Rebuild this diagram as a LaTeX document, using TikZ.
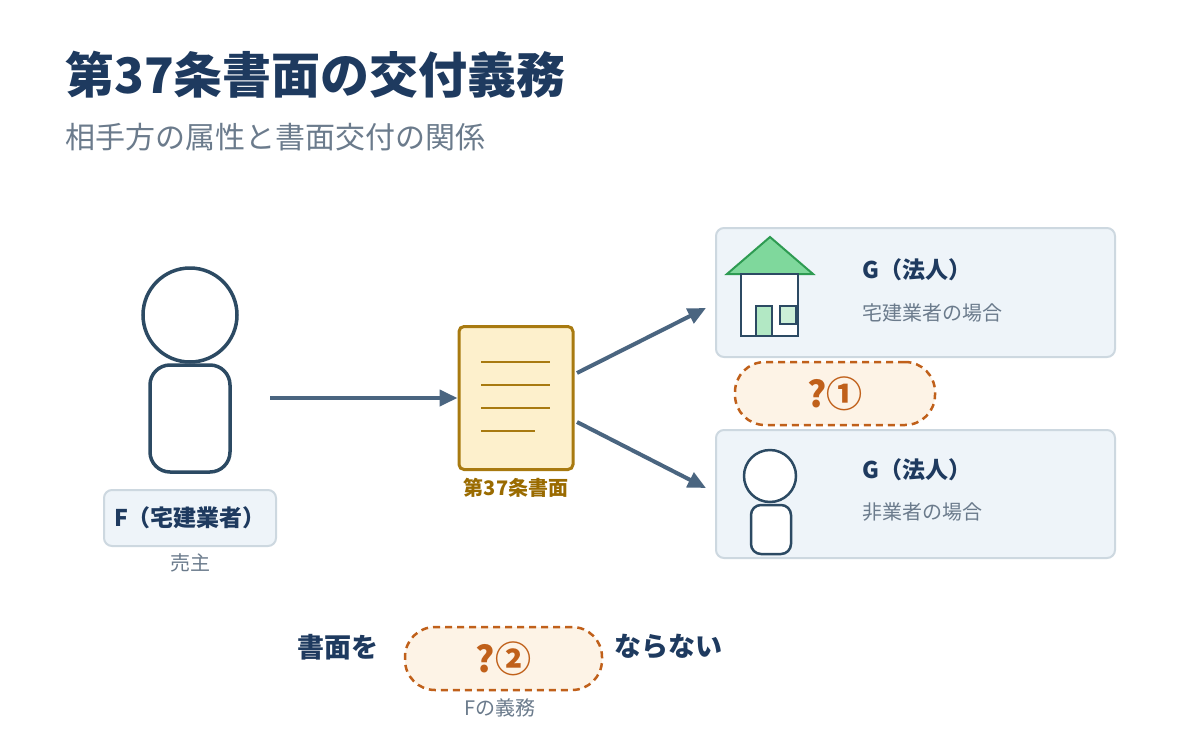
\documentclass[tikz,border=0pt]{standalone}
\usepackage{fontspec}
\setmainfont{Noto Sans CJK JP}
\usetikzlibrary{arrows.meta}
\definecolor{navy}{HTML}{1E3A5F}
\definecolor{ink}{HTML}{2C4A63}
\definecolor{arrowc}{HTML}{4A6580}
\definecolor{greytxt}{HTML}{6B7B8C}
\definecolor{panel}{HTML}{EEF4F9}
\definecolor{panelline}{HTML}{CDD8E0}
\definecolor{docfill}{HTML}{FDF0CC}
\definecolor{docline}{HTML}{A87A10}
\definecolor{doctxt}{HTML}{9A6B00}
\definecolor{pillfill}{HTML}{FDF3E6}
\definecolor{pillline}{HTML}{C0601A}
\definecolor{roof}{HTML}{7FD89C}
\definecolor{roofline}{HTML}{2E9B52}
\begin{document}
\begin{tikzpicture}[x=1pt,y=-1pt,
    panelbox/.style={fill=panel, draw=panelline, line width=2pt, rounded corners=8pt},
    pill/.style={fill=pillfill, draw=pillline, line width=2.5pt, dash pattern=on 7pt off 5pt, rounded corners=30pt},
    flow/.style={draw=arrowc, line width=4pt, -{Triangle[length=18pt,width=16pt]}},
    figure/.style={draw=ink, line width=3.5pt},
    title/.style={font=\fontsize{49}{54}\selectfont\bfseries, text=navy, anchor=west},
    head/.style={font=\fontsize{23}{26}\selectfont\bfseries, text=navy, anchor=west},
    note/.style={font=\fontsize{20}{24}\selectfont, text=greytxt},
    ask/.style={font=\fontsize{36}{40}\selectfont\bfseries, text=pillline}]
  \useasboundingbox (0,0) rectangle (1200,750);
  \fill[white] (0,0) rectangle (1200,750);

  % Titel
  \node[title, inner sep=0pt] (title) at (65,75) {第37条書面の交付義務};
  \node[anchor=west, inner sep=0pt, font=\fontsize{30}{34}\selectfont, text=greytxt] (sub) at (65,137) {相手方の属性と書面交付の関係};

  % Verkaeufer F
  \draw[figure, fill=white] (190,315) circle (47);
  \draw[figure, fill=white, rounded corners=20pt] (150,365) rectangle (230,472);
  \node[panelbox, minimum width=172pt, minimum height=56pt] (F) at (190,518) {};
  \node[head, anchor=center] (Ftxt) at (F) {F（宅建業者）};
  \node[note] (seller) at (190,563) {売主};

  % Schriftstueck
  \node[fill=docfill, draw=docline, line width=3pt, rounded corners=5pt,
        minimum width=114pt, minimum height=143pt] (doc) at (516,398) {};
  \foreach \y/\e in {362/550,385/550,408/550,431/535}
    \draw[docline, line width=2.5pt] (481,\y) -- (\e,\y);
  \node[font=\fontsize{20}{24}\selectfont\bfseries, text=doctxt] (doctxt) at (516,488) {第37条書面};

  \coordinate (Fout) at (270,398);
  \draw[flow] (Fout) -- (doc.west);
  \coordinate (up) at (706,308);
  \coordinate (down) at (706,488);
  \draw[flow] (577,373) -- (up);
  \draw[flow] (577,422) -- (down);

  % G als Makler
  \node[panelbox, minimum width=399pt, minimum height=129pt] (G1) at (915.5,292.5) {};
  \draw[roofline, line width=2pt, fill=roof] (727,274) -- (770,237) -- (813,274) -- cycle;
  \draw[ink, line width=2.5pt, fill=white] (741,274) rectangle (798,336);
  \draw[ink, line width=2pt, fill=roof!60] (756,306) rectangle (772,336);
  \draw[ink, line width=2pt, fill=roof!40] (780,306) rectangle (796,324);
  \node[head, inner sep=0pt] (G1a) at (862,270) {G（法人）};
  \node[note, anchor=west, inner sep=0pt] (G1b) at (862,313) {宅建業者の場合};

  \node[pill, minimum width=200pt, minimum height=63pt] (q1) at (835,393.5) {};
  \node[ask] at (q1) {?①};

  % G als Laie
  \node[panelbox, minimum width=399pt, minimum height=128pt] (G2) at (915.5,494) {};
  \draw[figure, line width=2.5pt, fill=white] (770,476) circle (26);
  \draw[figure, line width=2.5pt, fill=white, rounded corners=10pt] (751,505) rectangle (791,554);
  \node[head, inner sep=0pt] (G2a) at (862,470) {G（法人）};
  \node[note, anchor=west, inner sep=0pt] (G2b) at (862,512) {非業者の場合};

  % Satz unten
  \node[font=\fontsize{27}{30}\selectfont\bfseries, text=navy] (s1) at (338,647) {書面を};
  \node[pill, minimum width=197pt, minimum height=63pt] (q2) at (503.5,658.5) {};
  \node[ask] at (q2) {?②};
  \node[font=\fontsize{27}{30}\selectfont\bfseries, text=navy] (s2) at (668,647) {ならない};
  \node[note] (duty) at (500,708) {Fの義務};
\end{tikzpicture}
\end{document}
